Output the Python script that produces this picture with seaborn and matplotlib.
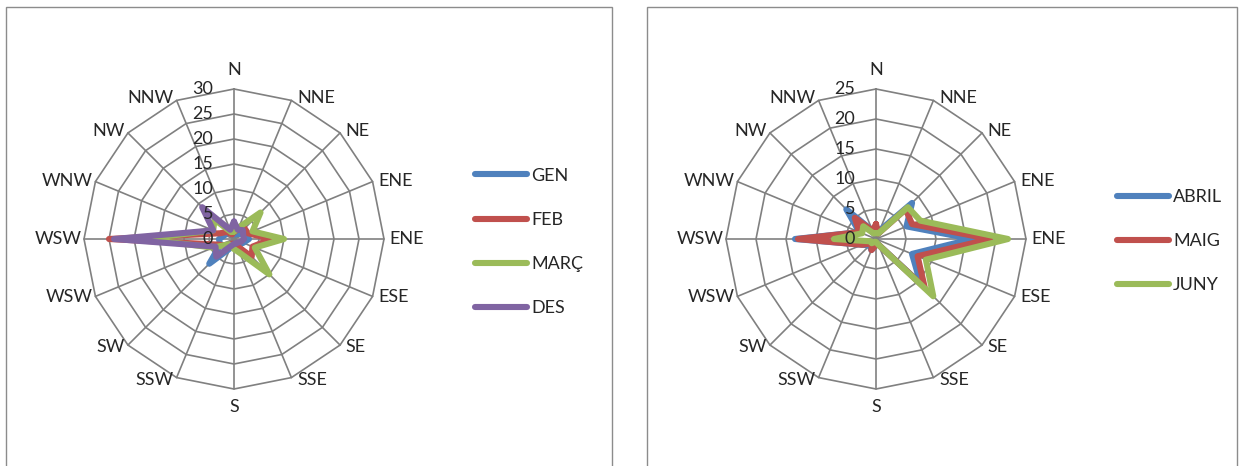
#!/usr/bin/env python3
# -*- coding: utf-8 -*-

import numpy as np
import pandas as pd

import seaborn as sns
import matplotlib.pyplot as plt
from matplotlib.patches import Rectangle

directions = ['N', 'NNE', 'NE', 'ENE', 'ENE', 'ESE', 'SE', 'SSE',
              'S', 'SSW', 'SW', 'WSW', 'WSW', 'WNW', 'NW', 'NNW']

# left chart: winter months
gen = [1, 1, 1.5, 2, 3, 2, 1.5, 1, 1, 2, 7, 3, 3, 2, 2, 1]
feb = [1.5, 2, 3, 3, 7.5, 4, 5, 1.5, 1, 1, 2, 3, 25, 3, 2, 1]
marc = [1.5, 2.5, 7.5, 4, 10, 4.5, 10, 3, 2, 1.5, 1.5, 4.5, 18, 4.5, 5.5, 1.5]
des = [3.5, 2, 2.5, 2, 2, 1.5, 1, 1, 1, 1.5, 5, 4, 24, 4.5, 9, 2]

# right chart: spring months
abril = [2, 1.5, 8.5, 5.5, 16, 6.5, 10.5, 1, 1, 2, 1.5, 2.5, 13.5, 3, 7, 1.5]
maig = [2.5, 1, 7, 6.5, 19, 7.5, 11.5, 1, 1, 2, 1, 2.5, 13, 3, 5, 1.5]
juny = [1, 1, 7.5, 8, 22, 9, 13.5, 1, 0.5, 0.5, 1, 1, 7, 2.5, 3, 1]

left_ticks = [0, 5, 10, 15, 20, 25, 30]
right_ticks = [0, 5, 10, 15, 20, 25]

BLUE = '#4F81BD'
RED = '#C0504D'
GREEN = '#9BBB59'
PURPLE = '#8064A2'
GRID = '#808080'

sns.set_style('white')
plt.rcParams['font.family'] = ['Lato', 'DejaVu Sans']

W, H = 1243, 466
FS = 13
fig = plt.figure(figsize=(W / 100, H / 100), dpi=100)

angles = np.linspace(0, 2 * np.pi, len(directions), endpoint=False)


def make_frame(x0, x1):
    fig.patches.append(Rectangle((x0 / W, -0.1), (x1 - x0) / W, 1.1 - 7 / H,
                                 transform=fig.transFigure, fill=False,
                                 ec='#8c8c8c', lw=1))


def radar(cx, cy, series, ticks, legend_x, legend_y):
    R = 150
    ax = fig.add_axes([(cx - R) / W, 1 - (cy + R) / H, 2 * R / W, 2 * R / H],
                      projection='polar')
    ax.set_theta_zero_location('N')
    ax.set_theta_direction(-1)
    rmax = ticks[-1]

    # polygon grid
    closed = np.append(angles, angles[0])
    for t in ticks[1:]:
        ax.plot(closed, [t] * len(closed), color=GRID, lw=1.2, clip_on=False, zorder=1)
    for th in angles:
        ax.plot([th, th], [0, rmax], color=GRID, lw=1.2, clip_on=False, zorder=1)

    rows = []
    for name, vals, col in series:
        v = list(vals) + [vals[0]]
        for th, r in zip(closed, v):
            rows.append({'theta': th, 'r': r, 'mes': name})
    df = pd.DataFrame(rows)
    palette = {name: col for name, vals, col in series}
    sns.lineplot(data=df, x='theta', y='r', hue='mes', palette=palette,
                 sort=False, estimator=None, lw=4.4, ax=ax, zorder=3)

    ax.set_ylim(0, rmax)
    ax.set_xticks([])
    ax.set_yticks([])
    ax.grid(False)
    ax.spines['polar'].set_visible(False)
    ax.set_facecolor('none')
    ax.set_xlabel('')
    ax.set_ylabel('')

    for th, lab in zip(angles, directions):
        s, c = np.sin(th), np.cos(th)
        if abs(s) < 0.01:
            ax.annotate(lab, xy=(th, rmax), xytext=(0, 14 if c > 0 else -13),
                        textcoords='offset points', ha='center', va='center',
                        fontsize=FS, annotation_clip=False)
        else:
            ax.annotate(lab, xy=(th, rmax), xytext=(4 if s > 0 else -2, 1.5 * c),
                        textcoords='offset points',
                        ha='left' if s > 0 else 'right', va='center',
                        fontsize=FS, annotation_clip=False)

    for t in ticks:
        ax.annotate(str(t), xy=(0, t), xytext=(-15, 0), textcoords='offset points',
                    ha='right', va='center', fontsize=FS, annotation_clip=False)

    ax.legend(loc='center left', bbox_to_anchor=(legend_x / W, 1 - legend_y / H),
              bbox_transform=fig.transFigure, frameon=False, fontsize=FS,
              handlelength=2.9, handletextpad=0.2, labelspacing=1.56,
              borderpad=0, borderaxespad=0, title=None)
    return ax


make_frame(6, 612)
make_frame(647, 1237)

radar(234, 239, [('GEN', gen, BLUE), ('FEB', feb, RED),
                 ('MARÇ', marc, GREEN), ('DES', des, PURPLE)],
      left_ticks, 475, 242)
radar(876, 239, [('ABRIL', abril, BLUE), ('MAIG', maig, RED),
                 ('JUNY', juny, GREEN)],
      right_ticks, 1117, 241)

fig.savefig('out.png', dpi=100)
